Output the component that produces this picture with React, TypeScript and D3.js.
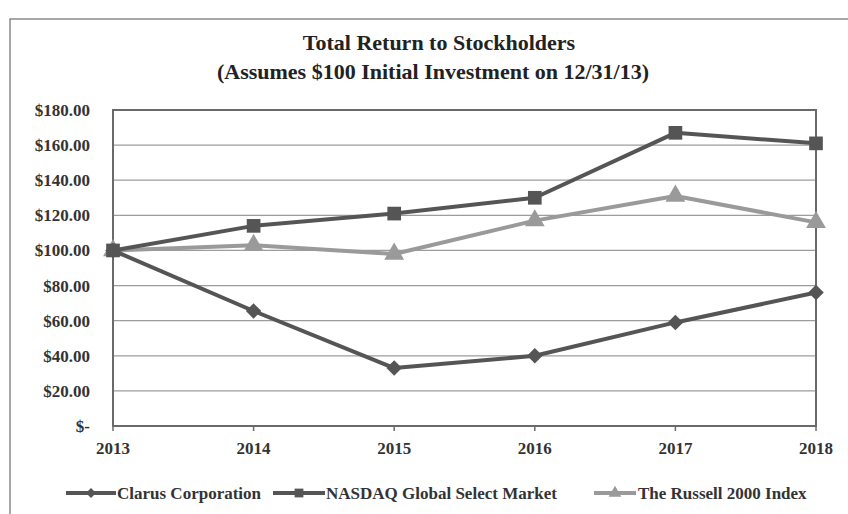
import React, { useEffect, useRef } from "react";
import * as d3 from "d3";

const years = ["2013", "2014", "2015", "2016", "2017", "2018"];
const clarus = [100, 65.5, 33, 40, 59, 76];
const nasdaq = [100, 114, 121, 130, 167, 161];
const russell = [100, 103, 98, 117, 131, 116];
const yTicks = [0, 20, 40, 60, 80, 100, 120, 140, 160, 180];

const seriesList = [
  { name: "Clarus Corporation", values: clarus, color: "#555555", marker: "diamond" },
  { name: "NASDAQ Global Select Market", values: nasdaq, color: "#555555", marker: "square" },
  { name: "The Russell 2000 Index", values: russell, color: "#9a9a9a", marker: "triangle" },
];

const font = "'Liberation Serif', 'Times New Roman', serif";

const App = () => {
  const ref = useRef<SVGSVGElement>(null);

  useEffect(() => {
    const svg = d3.select(ref.current);
    svg.selectAll("*").remove();

    const width = 848;
    const height = 514;
    const margin = { left: 113, right: 32, top: 110, bottom: 88 };

    svg.append("rect").attr("width", width).attr("height", height).attr("fill", "#ffffff");

    // outer frame
    svg.append("rect")
      .attr("x", 10).attr("y", 19)
      .attr("width", 840).attr("height", 520)
      .attr("fill", "none")
      .attr("stroke", "#8a8a8a")
      .attr("stroke-width", 1.5);

    const x = d3.scalePoint<string>()
      .domain(years)
      .range([margin.left, width - margin.right]);
    const y = d3.scaleLinear()
      .domain([0, 180])
      .range([height - margin.bottom, margin.top]);

    // title
    svg.append("text")
      .attr("x", 439).attr("y", 50)
      .attr("text-anchor", "middle")
      .attr("font-family", font)
      .attr("font-weight", "bold")
      .attr("font-size", 22)
      .attr("fill", "#222")
      .text("Total Return to Stockholders");
    svg.append("text")
      .attr("x", 433).attr("y", 79)
      .attr("text-anchor", "middle")
      .attr("font-family", font)
      .attr("font-weight", "bold")
      .attr("font-size", 22)
      .attr("fill", "#222")
      .text("(Assumes $100 Initial  Investment on 12/31/13)");

    // gridlines
    svg.append("g")
      .selectAll("line")
      .data(yTicks.filter(d => d > 0 && d < 180))
      .enter().append("line")
      .attr("x1", margin.left).attr("x2", width - margin.right)
      .attr("y1", d => y(d)).attr("y2", d => y(d))
      .attr("stroke", "#9c9c9c")
      .attr("stroke-width", 1.3);

    // plot border
    svg.append("rect")
      .attr("x", margin.left).attr("y", margin.top)
      .attr("width", width - margin.right - margin.left)
      .attr("height", height - margin.bottom - margin.top)
      .attr("fill", "none")
      .attr("stroke", "#6a6a6a")
      .attr("stroke-width", 2);

    // y labels
    svg.append("g")
      .selectAll("text")
      .data(yTicks)
      .enter().append("text")
      .attr("x", 90).attr("y", d => y(d) + 6)
      .attr("text-anchor", "end")
      .attr("font-family", font)
      .attr("font-weight", "bold")
      .attr("font-size", 17)
      .attr("fill", "#333")
      .text(d => d === 0 ? "$-" : "$" + d3.format(".2f")(d));

    // x labels and ticks
    const xg = svg.append("g");
    xg.selectAll("line")
      .data(years)
      .enter().append("line")
      .attr("x1", d => x(d)!).attr("x2", d => x(d)!)
      .attr("y1", y(0)).attr("y2", y(0) + 5)
      .attr("stroke", "#6a6a6a")
      .attr("stroke-width", 1.5);
    xg.selectAll("text")
      .data(years)
      .enter().append("text")
      .attr("x", d => x(d)!).attr("y", y(0) + 28)
      .attr("text-anchor", "middle")
      .attr("font-family", font)
      .attr("font-weight", "bold")
      .attr("font-size", 17)
      .attr("fill", "#333")
      .text(d => d);

    const symbolFor = (m: string, size: number) => {
      if (m === "diamond") return d3.symbol().type(d3.symbolDiamond2).size(size * 0.9)();
      if (m === "square") return d3.symbol().type(d3.symbolSquare).size(size * 1.1)();
      return d3.symbol().type(d3.symbolTriangle).size(size)();
    };

    const line = d3.line<number>()
      .x((d, i) => x(years[i])!)
      .y(d => y(d));

    // draw russell first so dark lines sit on top
    [seriesList[2], seriesList[0], seriesList[1]].forEach(s => {
      svg.append("path")
        .datum(s.values)
        .attr("d", line)
        .attr("fill", "none")
        .attr("stroke", s.color)
        .attr("stroke-width", 4)
        .attr("stroke-linejoin", "round");
      svg.append("g")
        .selectAll("path")
        .data(s.values)
        .enter().append("path")
        .attr("transform", (d, i) => "translate(" + x(years[i]) + "," + y(d) + ")")
        .attr("d", symbolFor(s.marker, 170))
        .attr("fill", s.color);
    });

    // legend
    const legendItems = [
      { x0: 66, x1: 116, tx: 117 },
      { x0: 273, x1: 325, tx: 326 },
      { x0: 594, x1: 636, tx: 638 },
    ];
    seriesList.forEach((s, i) => {
      const it = legendItems[i];
      const ly = 493;
      svg.append("line")
        .attr("x1", it.x0).attr("x2", it.x1)
        .attr("y1", ly).attr("y2", ly)
        .attr("stroke", s.color)
        .attr("stroke-width", 4);
      svg.append("path")
        .attr("transform", "translate(" + (it.x0 + it.x1) / 2 + "," + ly + ")")
        .attr("d", symbolFor(s.marker, 70))
        .attr("fill", s.color);
      svg.append("text")
        .attr("x", it.tx).attr("y", ly + 6)
        .attr("font-family", font)
        .attr("font-weight", "bold")
        .attr("font-size", 17)
        .attr("fill", "#333")
        .text(s.name);
    });
  }, []);

  return (
    <svg
      ref={ref}
      width={848}
      height={514}
      style={{ position: "absolute", left: 0, top: 0, display: "block" }}
    />
  );
};

export default App;
